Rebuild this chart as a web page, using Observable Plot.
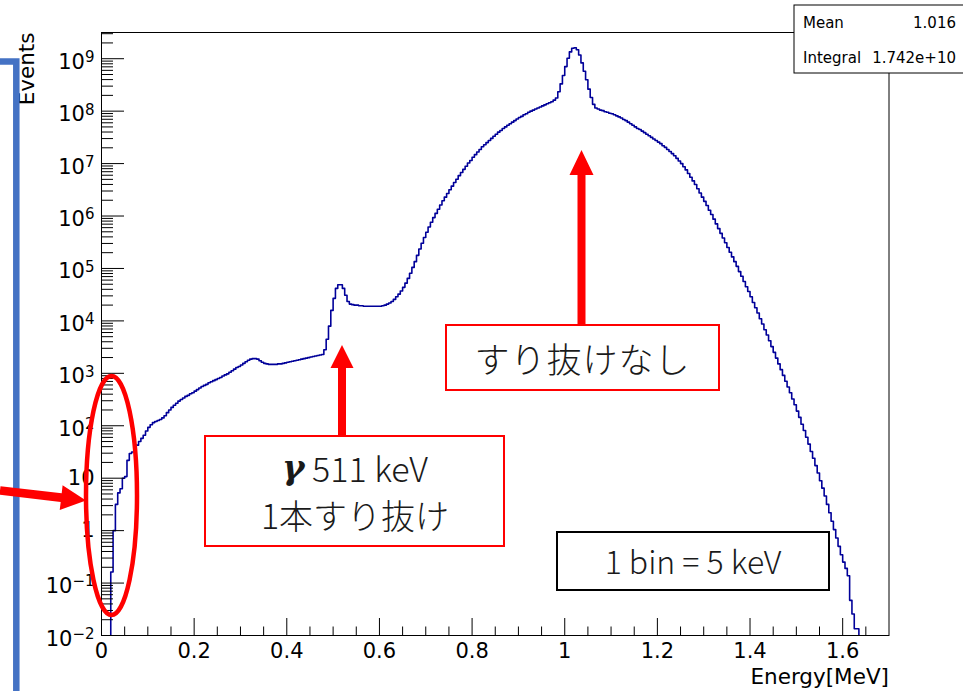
<!DOCTYPE html>
<html><head><meta charset="utf-8">
<script src="https://cdn.jsdelivr.net/npm/d3@7"></script>
<script src="https://cdn.jsdelivr.net/npm/@observablehq/plot@0.6"></script>
<style>
html,body{margin:0;padding:0;background:#fff;}
#wrap{position:relative;width:963px;height:691px;overflow:hidden;background:#fff;}
#overlay{position:absolute;left:0;top:0;pointer-events:none;}
</style></head><body><div id="wrap"></div>
<script>
// Histogram: 5 keV bins, first non-empty bin starts at 0.020 MeV; values are log10(events)
const binStart = 0.02;
const binWidth = 0.005;
const logCounts = [
 -0.79, 0.00, 0.50, 0.72, 0.80, 1.00, 1.03, 1.34, 1.47, 1.50,
  1.58, 1.63, 1.70, 1.76, 1.82, 1.90, 1.97, 2.02, 2.06, 2.08,
  2.10, 2.12, 2.15, 2.19, 2.25, 2.30, 2.35, 2.39, 2.43, 2.47,
  2.50, 2.53, 2.56, 2.58, 2.61, 2.63, 2.66, 2.69, 2.72, 2.75,
  2.77, 2.79, 2.82, 2.84, 2.86, 2.88, 2.90, 2.92, 2.95, 2.97,
  2.99, 3.02, 3.05, 3.08, 3.11, 3.13, 3.16, 3.19, 3.22, 3.25,
  3.27, 3.28, 3.28, 3.27, 3.24, 3.21, 3.19, 3.18, 3.17, 3.17,
  3.17, 3.17, 3.18, 3.18, 3.19, 3.20, 3.21, 3.22, 3.23, 3.24,
  3.25, 3.26, 3.27, 3.28, 3.29, 3.30, 3.31, 3.32, 3.33, 3.34,
  3.35, 3.36, 3.45, 3.65, 3.90, 4.20, 4.43, 4.62, 4.69, 4.69,
  4.62, 4.49, 4.37, 4.32, 4.31, 4.30, 4.30, 4.29, 4.29, 4.28,
  4.28, 4.28, 4.28, 4.28, 4.28, 4.28, 4.28, 4.29, 4.30, 4.32,
  4.34, 4.37, 4.41, 4.46, 4.51, 4.57, 4.64, 4.72, 4.81, 4.91,
  5.02, 5.13, 5.25, 5.37, 5.48, 5.59, 5.69, 5.79, 5.88, 5.97,
  6.05, 6.13, 6.21, 6.29, 6.36, 6.43, 6.50, 6.57, 6.64, 6.70,
  6.77, 6.83, 6.89, 6.95, 7.01, 7.06, 7.12, 7.17, 7.22, 7.27,
  7.32, 7.36, 7.40, 7.44, 7.48, 7.52, 7.56, 7.60, 7.63, 7.67,
  7.70, 7.73, 7.76, 7.79, 7.82, 7.85, 7.88, 7.90, 7.93, 7.95,
  7.98, 8.00, 8.02, 8.04, 8.06, 8.08, 8.10, 8.12, 8.14, 8.16,
  8.18, 8.21, 8.25, 8.37, 8.52, 8.68, 8.85, 9.01, 9.13, 9.20,
  9.21, 9.17, 9.07, 8.92, 8.76, 8.60, 8.42, 8.26, 8.13, 8.06,
  8.04, 8.02, 8.01, 7.99, 7.98, 7.96, 7.95, 7.93, 7.91, 7.89,
  7.87, 7.84, 7.82, 7.79, 7.76, 7.73, 7.70, 7.67, 7.65, 7.62,
  7.59, 7.56, 7.53, 7.50, 7.47, 7.44, 7.41, 7.38, 7.34, 7.31,
  7.27, 7.23, 7.19, 7.15, 7.10, 7.05, 7.00, 6.94, 6.88, 6.81,
  6.74, 6.67, 6.60, 6.52, 6.44, 6.36, 6.28, 6.20, 6.11, 6.03,
  5.94, 5.85, 5.76, 5.67, 5.58, 5.49, 5.40, 5.31, 5.22, 5.13,
  5.04, 4.94, 4.85, 4.75, 4.65, 4.56, 4.46, 4.35, 4.25, 4.15,
  4.04, 3.94, 3.83, 3.73, 3.62, 3.51, 3.40, 3.29, 3.18, 3.07,
  2.96, 2.85, 2.74, 2.63, 2.51, 2.40, 2.28, 2.16, 2.03, 1.91,
  1.78, 1.65, 1.51, 1.38, 1.24, 1.10, 0.95, 0.81, 0.66, 0.50,
  0.34, 0.18, 0.02, -0.14, -0.30, -0.46, -0.60, -0.72, -0.86, -1.33,
 -1.59, -1.87, -1.87
];
const emptyLevel = 1e-4; // empty bins (drawn below the visible range)
const xRange = [0, 1.7];
const yRange = [0.01, Math.pow(10, 9.5)];
const xMajorTicks = [0, 0.2, 0.4, 0.6, 0.8, 1.0, 1.2, 1.4, 1.6];
const yMajorExponents = [-2, -1, 0, 1, 2, 3, 4, 5, 6, 7, 8, 9];
const xTitle = "Energy[MeV]";
const yTitle = "Events";
const statNames = ["Mean", "Integral"];
const statValues = ["1.016", "1.742e+10"];
const noteGamma = ["γ", " 511 keV"];
const noteGammaLine2 = "1本すり抜け";
const notePeak = "すり抜けなし";
const noteBin = "1 bin = 5 keV";

// ---- build table ----
const hist = [{E: 0, c: emptyLevel}];
logCounts.forEach((v, i) => hist.push({E: binStart + i * binWidth, c: Math.pow(10, v)}));
hist.push({E: binStart + logCounts.length * binWidth, c: emptyLevel});
hist.push({E: xRange[1], c: emptyLevel});

const yMajor = yMajorExponents.map(e => Math.pow(10, e));
const yMinor = [];
for (const e of yMajorExponents) for (let k = 2; k <= 9; k++) { const v = k * Math.pow(10, e); if (v <= yRange[1]) yMinor.push(v); }
const xMinor = d3.range(0, 34).map(i => +(i * 0.05).toFixed(2)).filter(v => !xMajorTicks.some(t => Math.abs(t - v) < 1e-9) && v < xRange[1]);

const W = 963, H = 691, mL = 101, mR = 74.5, mT = 32, mB = 56;
const fw = W - mL - mR, fh = H - mT - mB;
const tickFont = "'DejaVu Sans', 'Liberation Sans', sans-serif";
const yFmt = d => { const e = Math.round(Math.log10(d)); return e === 0 ? "1" : e === 1 ? "10" : "10^" + e; };

const chart = Plot.plot({
  width: W, height: H,
  marginLeft: mL, marginRight: mR, marginTop: mT, marginBottom: mB,
  style: {fontFamily: tickFont, fontSize: "21px", background: "white", color: "black"},
  x: {domain: xRange, axis: null},
  y: {type: "log", domain: yRange, axis: null},
  marks: [
    Plot.lineY(hist, {x: "E", y: "c", curve: "step-after", stroke: "#000099", strokeWidth: 1.6, clip: true}),
    Plot.tickY(yMajor, {y: d => d, insetRight: fw - 23, stroke: "black", strokeWidth: 1}),
    Plot.tickY(yMinor, {y: d => d, insetRight: fw - 12, stroke: "black", strokeWidth: 1}),
    Plot.tickX(xMajorTicks, {x: d => d, insetTop: fh - 17, stroke: "black", strokeWidth: 1}),
    Plot.tickX(xMinor, {x: d => d, insetTop: fh - 8.5, stroke: "black", strokeWidth: 1}),
    Plot.text(xMajorTicks, {x: d => d, text: d => String(+d.toFixed(1)), frameAnchor: "bottom", dy: 8, lineAnchor: "top",
      textAnchor: "middle", fontSize: 21, fontFamily: tickFont, fill: "black"}),
    Plot.text(yMajor, {y: d => d, text: yFmt, frameAnchor: "left", dx: -7, lineAnchor: "middle",
      textAnchor: "end", fontSize: 21, fontFamily: tickFont, fill: "black", className: "ylab"}),
    Plot.frame({stroke: "black", strokeWidth: 1}),
    Plot.text([xTitle], {text: d => d, frameAnchor: "bottom-right", dy: 48, textAnchor: "end", lineAnchor: "bottom", fontSize: 21.5, fontFamily: "'DejaVu Sans', sans-serif", fill: "black"}),
    Plot.text([yTitle], {text: d => d, frameAnchor: "top-left", rotate: -90, dx: -68, textAnchor: "end", lineAnchor: "bottom", fontSize: 21.5, fontFamily: "'DejaVu Sans', sans-serif", fill: "black"})
  ]
});

// superscript exponents on y tick labels
const NS = "http://www.w3.org/2000/svg";
chart.querySelectorAll('.ylab text').forEach(t => {
  const m = t.textContent.match(/^10\^(.+)$/);
  if (!m) return;
  t.textContent = "";
  const a = document.createElementNS(NS, "tspan"); a.setAttribute("dy", "3.3"); a.textContent = "10";
  const b = document.createElementNS(NS, "tspan"); b.setAttribute("dy", "-6.6"); b.setAttribute("font-size", "15"); b.textContent = m[1].replace("-", "\u2212");
  t.append(a, b);
});

const wrap = document.getElementById("wrap");
wrap.appendChild(chart);

// ---- slide annotations overlay ----
function arrowPoly(x0, y0, x1, y1, shaftHalf, headLen, headHalf) {
  const dx = x1 - x0, dy = y1 - y0, L = Math.hypot(dx, dy);
  const ux = dx / L, uy = dy / L, px = -uy, py = ux;
  const bx = x1 - ux * headLen, by = y1 - uy * headLen;
  const pts = [
    [x0 + px * shaftHalf, y0 + py * shaftHalf],
    [bx + px * shaftHalf, by + py * shaftHalf],
    [bx + px * headHalf, by + py * headHalf],
    [x1, y1],
    [bx - px * headHalf, by - py * headHalf],
    [bx - px * shaftHalf, by - py * shaftHalf],
    [x0 - px * shaftHalf, y0 - py * shaftHalf]
  ];
  return pts.map(p => p.map(v => v.toFixed(1)).join(",")).join(" ");
}
const jp = "'Noto Sans CJK JP', 'Noto Sans', sans-serif";
const ov = `
<svg id="overlay" xmlns="${NS}" width="${W}" height="${H}" viewBox="0 0 ${W} ${H}">
  <path d="M0,61.5 H16.3 V700" fill="none" stroke="#4472C4" stroke-width="6.5"/>
  <rect x="794" y="5" width="200" height="68" fill="white" stroke="black" stroke-width="1"/>
  <g font-family="'DejaVu Sans', sans-serif" font-size="15" fill="black">
    <text x="803" y="28.3">${statNames[0]}</text>
    <text x="956" y="28.3" text-anchor="end">${statValues[0]}</text>
    <text x="803" y="63.3">${statNames[1]}</text>
    <text x="956" y="63.3" text-anchor="end">${statValues[1]}</text>
  </g>
  <ellipse cx="111.5" cy="495.5" rx="25.5" ry="119.5" fill="none" stroke="#ff0000" stroke-width="4.5"/>
  <polygon points="${arrowPoly(0, 490.5, 86, 500.5, 4.3, 25, 12.5)}" fill="#ff0000"/>
  <rect x="205" y="436" width="299" height="110" fill="white" stroke="#ff0000" stroke-width="2"/>
  <polygon points="${arrowPoly(342, 436, 342, 345, 4, 23, 11.5)}" fill="#ff0000"/>
  <rect x="446" y="325" width="273" height="65" fill="white" stroke="#ff0000" stroke-width="2"/>
  <polygon points="${arrowPoly(581.5, 325, 581.5, 150, 4, 25, 12)}" fill="#ff0000"/>
  <rect x="557" y="532" width="272" height="58" fill="white" stroke="black" stroke-width="2"/>
  <g font-family="${jp}" font-weight="300" fill="#1a1a1a" text-anchor="middle">
    <text x="355" y="467" font-size="34" dominant-baseline="central"><tspan font-family="'DejaVu Serif', serif" font-style="italic" font-weight="bold">${noteGamma[0]}</tspan>${noteGamma[1]}</text>
    <text x="355" y="514" font-size="34" dominant-baseline="central">${noteGammaLine2}</text>
    <text x="582.5" y="357" font-size="35" letter-spacing="1" dominant-baseline="central">${notePeak}</text>
    <text x="693" y="560" font-size="32" dominant-baseline="central">${noteBin}</text>
  </g>
</svg>`;
wrap.insertAdjacentHTML("beforeend", ov);
</script>
</body></html>
